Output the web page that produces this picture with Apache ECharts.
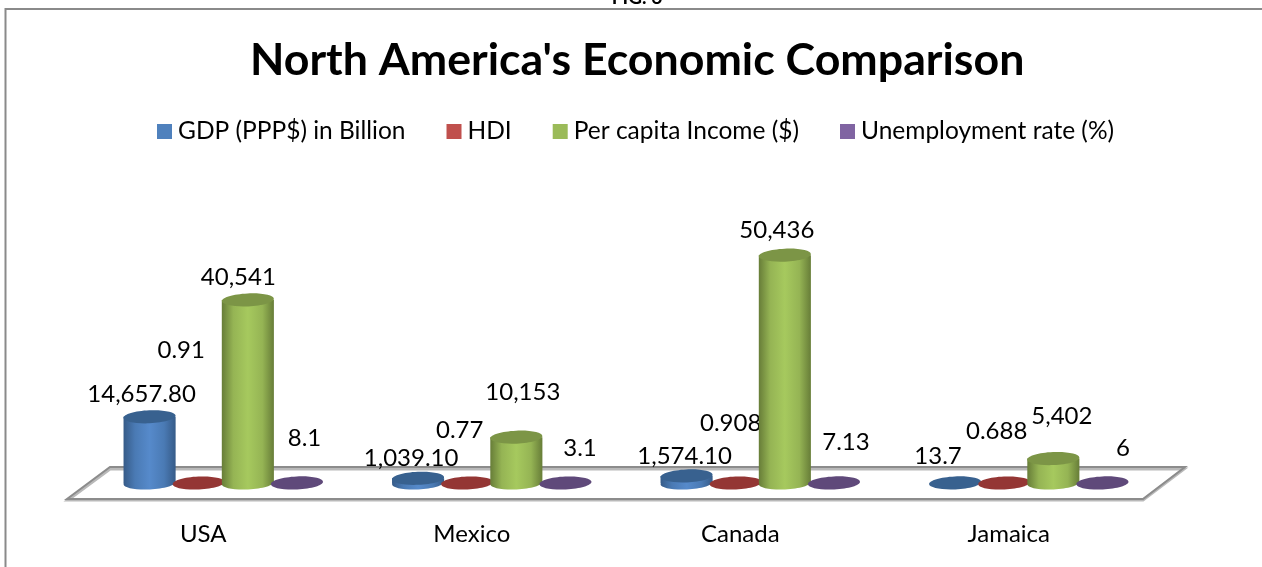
<!DOCTYPE html>
<html>
<head>
<meta charset="utf-8">
<style>
  html, body { margin: 0; padding: 0; background: #fff; }
  #chart { width: 1262px; height: 567px; }
</style>
<script src="https://cdn.jsdelivr.net/npm/echarts@6/dist/echarts.min.js"></script>
</head>
<body>
<div id="chart"></div>
<script>
// North America comparison figures
const countries = ['USA', 'Mexico', 'Canada', 'Jamaica'];
const gdpValues = [14657.8, 1039.1, 1574.1, 13.7];
const hdiValues = [0.91, 0.77, 0.908, 0.688];
const incomeValues = [40541, 10153, 50436, 5402];
const unemploymentValues = [8.1, 3.1, 7.13, 6];

const gdpLabels = ['14,657.80', '1,039.10', '1,574.10', '13.7'];
const hdiLabels = ['0.91', '0.77', '0.908', '0.688'];
const incomeLabels = ['40,541', '10,153', '50,436', '5,402'];
const unemploymentLabels = ['8.1', '3.1', '7.13', '6'];

// Hand placement of the value labels, relative to each cylinder's top centre
const gdpLabelShift = [[-8, -23], [-7, -20], [-2, -20], [-17, -27]];
const hdiLabelShift = [[-17.5, -133], [-7.5, -53], [-5, -60], [-7.5, -52]];
const incomeLabelShift = [[-9.5, -23], [6.5, -45], [-8, -25], [8.5, -42]];
const unemploymentLabelShift = [[7.5, -45], [14.5, -35], [12, -41], [20.5, -35]];

const FONT = 'Lato, "Open Sans", sans-serif';
const GRID = { left: 69, right: 119, top: 212, bottom: 84 };
const RY = 6.5;          // half height of a cylinder's elliptical cap
const TILT = 0.045;      // slight roll of the caps, in radians

const chart = echarts.init(document.getElementById('chart'), null, { renderer: 'canvas' });

// Draws a shaded cylinder standing on the floor, with its value label
function cylinderSeries(name, slot, values, labels, shifts, look) {
  return {
    name,
    type: 'custom',
    coordinateSystem: 'cartesian2d',
    itemStyle: { color: look.legend },
    encode: { x: 0, y: 1 },
    data: countries.map((c, i) => [c, values[i]]),
    z: 3 + slot,
    renderItem(params, api) {
      const i = params.dataIndex;
      const base = api.coord([api.value(0), 0]);
      const top = api.coord([api.value(0), api.value(1)]);
      const band = api.size([1, 0])[0];
      const cx = base[0] + band * (0.0746 + (slot - 1.5) * 0.183);
      const rx = band * 0.097;
      const body = new echarts.graphic.LinearGradient(0, 0, 1, 0, [
        { offset: 0, color: look.edge },
        { offset: 0.22, color: look.mid },
        { offset: 0.5, color: look.light },
        { offset: 0.78, color: look.mid },
        { offset: 1, color: look.edge }
      ]);
      const children = [];
      const tall = base[1] - top[1] > 1;
      if (tall) {
        children.push(
          { type: 'ellipse', x: cx, y: base[1], rotation: TILT,
            shape: { cx: 0, cy: 0, rx, ry: RY }, style: { fill: body } },
          { type: 'rect',
            shape: { x: cx - rx, y: top[1], width: rx * 2, height: base[1] - top[1] },
            style: { fill: body } }
        );
      }
      children.push({
        type: 'ellipse', x: cx, y: top[1], rotation: TILT,
        shape: { cx: 0, cy: 0, rx, ry: RY },
        style: { fill: look.cap }
      });
      children.push({
        type: 'text', z2: 50,
        x: cx + shifts[i][0], y: top[1] + shifts[i][1],
        style: {
          text: labels[i], fill: '#000', font: '24px ' + FONT,
          align: 'center', verticalAlign: 'middle'
        }
      });
      return { type: 'group', children };
    }
  };
}

const looks = {
  blue:   { legend: '#4f81bd', edge: '#365b88', mid: '#4a7ab4', light: '#568acb', cap: '#38618f' },
  red:    { legend: '#c0504d', edge: '#8f3331', mid: '#b04a47', light: '#c0504d', cap: '#943634' },
  green:  { legend: '#9bbb59', edge: '#677d38', mid: '#95b454', light: '#a6c95e', cap: '#7c9546' },
  purple: { legend: '#8064a2', edge: '#5a4576', mid: '#745b93', light: '#8064a2', cap: '#5f497a' }
};

const floorBack = 467, floorFront = 499;

chart.setOption({
  animation: false,
  backgroundColor: '#fff',
  title: {
    text: "North America's Economic Comparison",
    left: 245,
    top: 33,
    textStyle: { color: '#000', fontFamily: FONT, fontWeight: 'bold', fontSize: 44.7 }
  },
  legend: {
    top: 114,
    left: 152,
    itemWidth: 15,
    itemHeight: 15,
    itemGap: 41,
    icon: 'rect',
    textStyle: { color: '#000', fontFamily: FONT, fontSize: 24.5, padding: [0, 0, 0, 1] }
  },
  grid: GRID,
  xAxis: {
    type: 'category',
    data: countries,
    axisLine: { show: false },
    axisTick: { show: false },
    axisLabel: { color: '#000', fontFamily: FONT, fontSize: 24, margin: 39 }
  },
  yAxis: { type: 'value', min: 0, max: 60000, show: false },
  graphic: [
    // page frame, open at the bottom and on the right
    { type: 'polyline', z: 0, silent: true,
      shape: { points: [[5.5, 567], [5.5, 9], [1262, 9]] },
      style: { stroke: '#8a8a8a', lineWidth: 2, fill: 'none' } },
    // caption of the figure, cut by the top of the page
    { type: 'text', z: 0, silent: true, x: 637, y: 7,
      style: { text: 'FIG. 6', font: 'bold 19px ' + FONT, fill: '#000', align: 'center', verticalAlign: 'bottom' } },
    // floor of the plot
    { type: 'polygon', z: 1, silent: true,
      shape: { points: [[110, floorBack + 2], [1184, floorBack + 2], [1143, floorFront + 1], [68, floorFront + 1]] },
      style: { stroke: '#b9b9b9', lineWidth: 3, fill: '#fff' } },
    { type: 'polygon', z: 1, silent: true,
      shape: { points: [[110, floorBack], [1185, floorBack], [1143, floorFront], [67, floorFront]] },
      style: { stroke: '#8c8c8c', lineWidth: 2, fill: 'none', lineJoin: 'miter' } }
  ],
  series: [
    cylinderSeries('GDP (PPP$) in Billion', 0, gdpValues, gdpLabels, gdpLabelShift, looks.blue),
    cylinderSeries('HDI', 1, hdiValues, hdiLabels, hdiLabelShift, looks.red),
    cylinderSeries('Per capita Income ($)', 2, incomeValues, incomeLabels, incomeLabelShift, looks.green),
    cylinderSeries('Unemployment rate (%)', 3, unemploymentValues, unemploymentLabels, unemploymentLabelShift, looks.purple)
  ]
});
</script>
</body>
</html>
